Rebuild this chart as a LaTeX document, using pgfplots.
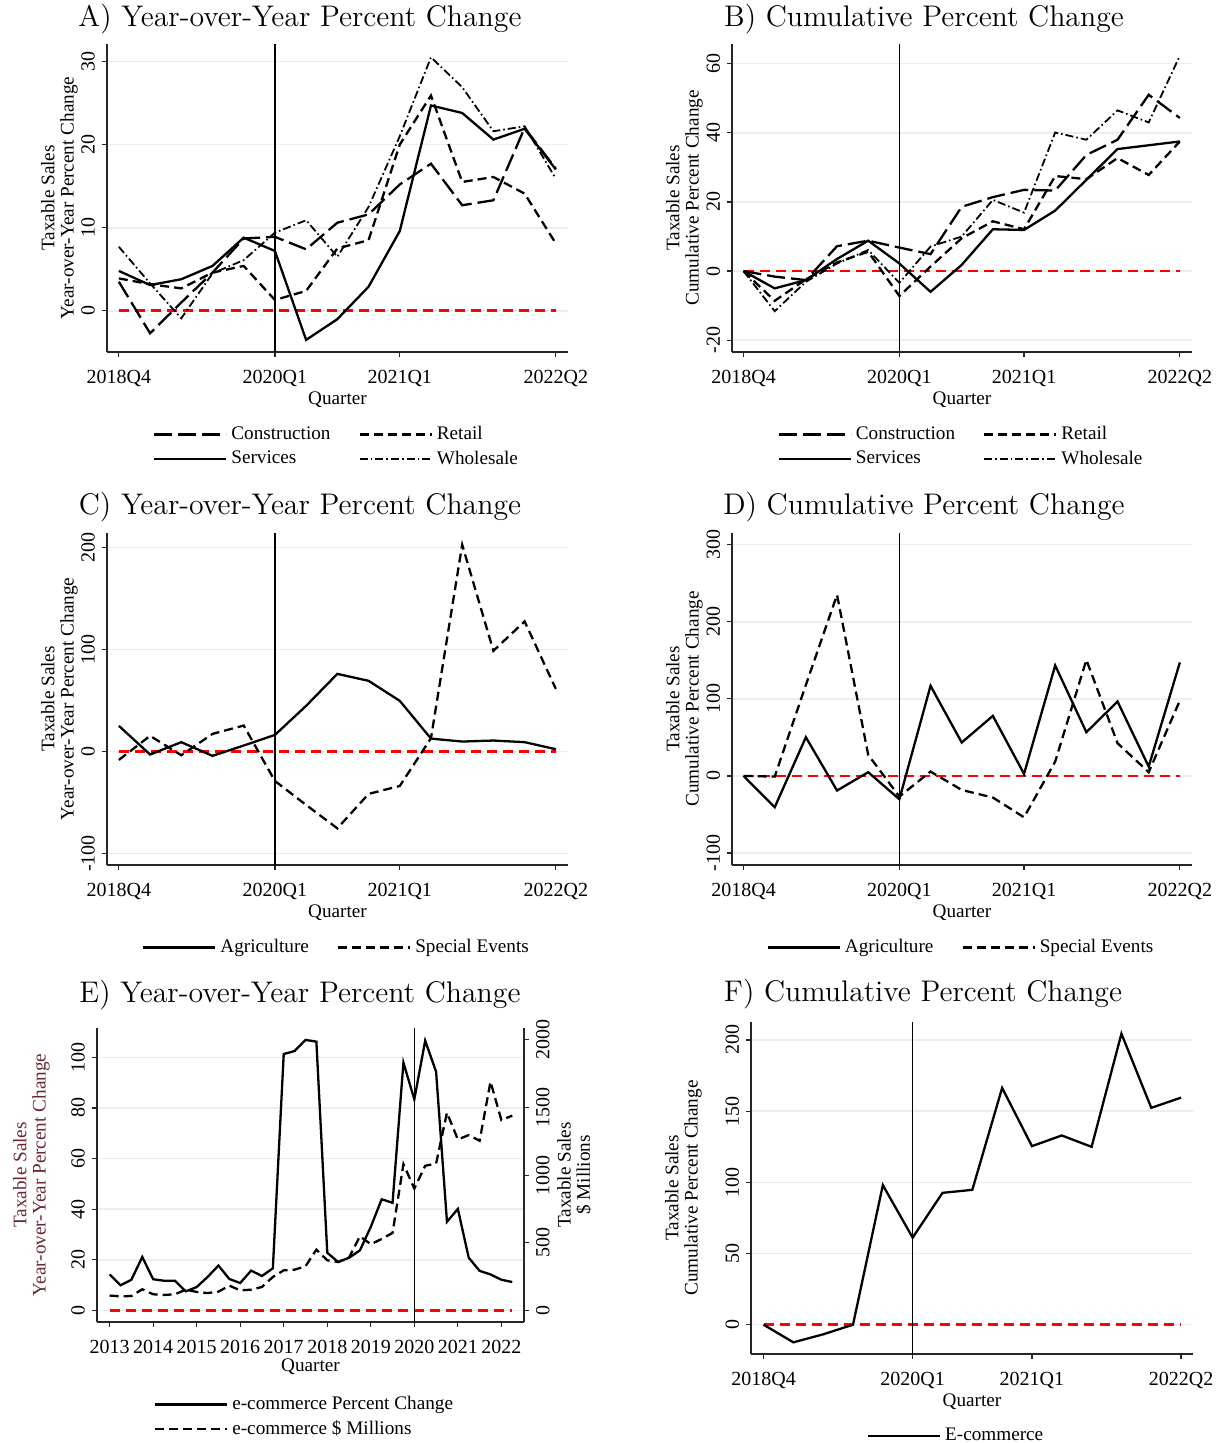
\documentclass[border=0pt]{standalone}
\usepackage{fontspec}
\usepackage{pgfplots}
\usepackage{pgfplotstable}
\pgfplotsset{compat=1.18}
\newfontfamily\tms{Liberation Serif}
\definecolor{gridc}{RGB}{232,238,241}
\definecolor{ylab}{RGB}{105,40,52}

\tikzset{
  lcon/.style={line width=1.15pt, dash pattern=on 9pt off 3pt},
  lret/.style={line width=1.15pt, dash pattern=on 4.5pt off 2.5pt},
  lser/.style={line width=1.15pt},
  lwho/.style={line width=0.9pt, dash pattern=on 4pt off 1.5pt on 0.8pt off 1.5pt},
  zline/.style={red, line width=1.35pt, dash pattern=on 5pt off 3pt},
  vline/.style={black, line width=0.7pt},
  ttl/.style={anchor=base, font=\fontsize{14.4}{16}\selectfont, scale=1.035, transform shape},
}

\pgfplotsset{
  stata/.style={
    scale only axis,
    axis x line*=bottom, axis y line*=left,
    axis line style={line width=0.6pt, black!85},
    every tick/.style={line width=0.6pt, black!85},
    tick align=outside, major tick length=2.5pt,
    ymajorgrids, grid style={line width=0.8pt, gridc},
    xtick={0,5,9,14}, xticklabels={2018Q4,2020Q1,2021Q1,2022Q2},
    xlabel={Quarter},
    label style={font=\tms\fontsize{9.6}{9.6}\selectfont},
    tick label style={font=\tms\fontsize{10}{10}\selectfont},
    xticklabel style={yshift=-3pt},
    xlabel style={inner sep=1pt, yshift=2pt},
    yticklabel style={rotate=90, anchor=south},
    ylabel style={align=center, yshift=-5pt},
    /pgf/number format/assume math mode=true,
    legend style={draw=none, fill=none, font=\tms\fontsize{9.6}{9.6}\selectfont,
      at={(0.5,0)}, anchor=north, yshift=-33pt, row sep=0pt,
      /tikz/every even column/.append style={column sep=12pt}},
    legend cell align=left,
    legend image code/.code={\draw[##1] (0pt,0pt) -- (36pt,0pt);},
  },
}

\pgfplotstableread{
q con ret ser who
0 3.5 3.9 4.8 7.7
1 -2.7 3.2 3.1 3.3
2 1.0 2.7 3.8 -0.9
3 4.6 4.6 5.4 4.5
4 8.7 5.4 8.8 6.1
5 8.9 1.3 7.2 9.4
6 7.4 2.4 -3.5 10.9
7 10.6 7.5 -1.0 6.5
8 11.6 8.5 2.9 12.5
9 15.2 20.0 9.6 21.0
10 17.7 25.9 24.7 30.5
11 12.7 15.5 23.8 26.9
12 13.3 16.1 20.6 21.6
13 22.0 14.1 21.9 22.2
14 17.1 8.1 17.0 15.9
}\tabA

\pgfplotstableread{
q con ret ser who
0 0 0 0 0
1 -1.6 -8.6 -5.0 -11.6
2 -2.6 -2.4 -2.6 -3.1
3 7.2 2.5 3.5 2.2
4 8.8 5.6 8.8 6.1
5 6.8 -7.2 2.2 -3.4
6 4.9 1.3 -6.0 7.1
7 18.6 9.5 1.8 10.0
8 21.4 14.4 12.1 20.6
9 23.5 12.1 11.9 16.9
10 23.3 27.5 17.5 40.1
11 33.6 26.6 26.4 38.0
12 38.0 32.7 35.3 46.5
13 51.0 27.8 36.4 43.0
14 44.3 37.5 37.5 62.3
}\tabB

\pgfplotstableread{
q agr spe
0 25.2 -8.2
1 -2.9 15.4
2 9.2 -3.6
3 -4.2 17.3
4 5.9 25.5
5 16.3 -28.8
6 44.8 -52.3
7 76.1 -75.2
8 69.3 -41.5
9 49.7 -33.7
10 12.7 13.1
11 9.8 202.6
12 10.8 98.7
13 9.2 127.5
14 2.3 61.4
}\tabC

\pgfplotstableread{
q agr spe
0 0 0
1 -40.7 -0.9
2 50.2 118
3 -19.0 235
4 4.8 27.3
5 -30.3 -26.8
6 116.9 5.6
7 43.3 -18.2
8 77.9 -28.1
9 2.6 -53.7
10 143.3 18.6
11 56.7 150.6
12 96.5 42.4
13 12.1 4.8
14 147.2 97.8
}\tabD

\pgfplotstableread{
yr pct mil
2013.00 14.2 109
2013.25 9.9 104
2013.50 12.1 106
2013.75 21.1 156
2014.00 12.3 119
2014.25 11.7 114
2014.50 11.7 119
2014.75 7.5 153
2015.00 9.2 136
2015.25 13.2 128
2015.50 17.7 138
2015.75 12.4 183
2016.00 10.8 148
2016.25 15.7 153
2016.50 13.6 173
2016.75 16.6 247
2017.00 101.3 296
2017.25 102.5 301
2017.50 106.9 326
2017.75 106.2 449
2018.00 22.8 370
2018.25 19.1 358
2018.50 20.8 390
2018.75 23.7 548
2019.00 33.0 489
2019.25 43.9 528
2019.50 42.5 573
2019.75 97.9 1081
2020.00 83.4 901
2020.25 106.6 1069
2020.50 94.3 1086
2020.75 35.0 1462
2021.00 40.1 1264
2021.25 20.8 1296
2021.50 15.6 1254
2021.75 14.2 1691
2022.00 12.1 1407
2022.25 11.2 1440
}\tabE

\pgfplotstableread{
q ecom
0 0
1 -12.4
2 -6.8
3 0
4 98.0
5 61.1
6 92.6
7 94.7
8 166.3
9 125.4
10 132.9
11 124.9
12 204.4
13 152.3
14 159.5
}\tabF

\begin{document}
\begin{tikzpicture}
\path[use as bounding box] (0,0) rectangle (607.5pt,721.5pt);

% titles
\node[ttl] at (150pt,708pt) {A) Year-over-Year Percent Change};
\node[ttl] at (462pt,708pt) {B) Cumulative Percent Change};
\node[ttl] at (150pt,464pt) {C) Year-over-Year Percent Change};
\node[ttl] at (462pt,464pt) {D) Cumulative Percent Change};
\node[ttl] at (150pt,220pt) {E) Year-over-Year Percent Change};
\node[ttl] at (461.5pt,220.5pt) {F) Cumulative Percent Change};

% A
\begin{axis}[stata, at={(53.5pt,545.5pt)}, anchor=south west,
  width=230.5pt, height=154pt,
  xmin=-0.38, xmax=14.39, ymin=-4.95, ymax=32.1,
  ytick={0,10,20,30},
  ylabel={Taxable Sales\\Year-over-Year Percent Change},
  legend columns=2]
\addplot[zline, forget plot] coordinates {(0,0) (14,0)};
\addplot[vline, forget plot] coordinates {(5,-4.95) (5,32.1)};
\addplot[lcon] table[x=q,y=con]{\tabA};
\addlegendentry{Construction}
\addplot[lret] table[x=q,y=ret]{\tabA};
\addlegendentry{Retail}
\addplot[lser] table[x=q,y=ser]{\tabA};
\addlegendentry{Services}
\addplot[lwho] table[x=q,y=who]{\tabA};
\addlegendentry{Wholesale}
\end{axis}

% B
\begin{axis}[stata, at={(366pt,545.5pt)}, anchor=south west,
  width=230pt, height=154pt,
  xmin=-0.37, xmax=14.39, ymin=-23.4, ymax=65.7,
  ytick={-20,0,20,40,60},
  ylabel={Taxable Sales\\Cumulative Percent Change},
  legend columns=2]
\addplot[zline, forget plot] coordinates {(0,0) (14,0)};
\addplot[vline, forget plot] coordinates {(5,-23.4) (5,65.7)};
\addplot[lcon] table[x=q,y=con]{\tabB};
\addlegendentry{Construction}
\addplot[lret] table[x=q,y=ret]{\tabB};
\addlegendentry{Retail}
\addplot[lser] table[x=q,y=ser]{\tabB};
\addlegendentry{Services}
\addplot[lwho] table[x=q,y=who]{\tabB};
\addlegendentry{Wholesale}
\end{axis}

% C
\begin{axis}[stata, at={(53.5pt,289pt)}, anchor=south west,
  width=230.5pt, height=166pt,
  xmin=-0.38, xmax=14.39, ymin=-111.1, ymax=214.1,
  ytick={-100,0,100,200},
  ylabel={Taxable Sales\\Year-over-Year Percent Change},
  legend columns=2]
\addplot[zline, forget plot] coordinates {(0,0) (14,0)};
\addplot[vline, forget plot] coordinates {(5,-111.1) (5,214.1)};
\addplot[lser] table[x=q,y=agr]{\tabC};
\addlegendentry{Agriculture}
\addplot[lret] table[x=q,y=spe]{\tabC};
\addlegendentry{Special Events}
\end{axis}

% D
\begin{axis}[stata, at={(366pt,289pt)}, anchor=south west,
  width=230pt, height=166pt,
  xmin=-0.37, xmax=14.39, ymin=-115.6, ymax=315.2,
  ytick={-100,0,100,200,300},
  ylabel={Taxable Sales\\Cumulative Percent Change},
  legend columns=2]
\addplot[zline, forget plot] coordinates {(0,0) (14,0)};
\addplot[vline, forget plot] coordinates {(5,-115.6) (5,315.2)};
\addplot[lser] table[x=q,y=agr]{\tabD};
\addlegendentry{Agriculture}
\addplot[lret] table[x=q,y=spe]{\tabD};
\addlegendentry{Special Events}
\end{axis}

% E (left axis: percent change)
\begin{axis}[stata, at={(48.5pt,60.5pt)}, anchor=south west,
  width=213.5pt, height=147pt,
  xmin=2012.71, xmax=2022.52, ymin=-4.6, ymax=111.6,
  xtick={2013,2014,2015,2016,2017,2018,2019,2020,2021,2022},
  xticklabels={2013,2014,2015,2016,2017,2018,2019,2020,2021,2022},
  ytick={0,20,40,60,80,100},
  ylabel={Taxable Sales\\Year-over-Year Percent Change},
  ylabel style={text=ylab, yshift=9pt},
  legend columns=1, legend style={xshift=-2.5pt}]
\addplot[zline, forget plot] coordinates {(2013,0) (2022.25,0)};
\addplot[vline, forget plot] coordinates {(2020,-4.6) (2020,111.6)};
\addplot[lser] table[x=yr,y=pct]{\tabE};
\addlegendentry{e-commerce Percent Change}
\addlegendimage{lret}
\addlegendentry{e-commerce \$ Millions}
\end{axis}
% E (right axis: $ millions)
\begin{axis}[scale only axis, at={(48.5pt,60.5pt)}, anchor=south west,
  width=213.5pt, height=147pt,
  xmin=2012.71, xmax=2022.52, ymin=-86, ymax=2088,
  axis x line=none, axis y line*=right,
  axis line style={line width=0.6pt, black!85},
  every tick/.style={line width=0.6pt, black!85},
  tick align=outside, major tick length=2.5pt,
  ytick={0,500,1000,1500,2000},
  yticklabel style={rotate=90, anchor=north, font=\tms\fontsize{10}{10}\selectfont},
  /pgf/number format/assume math mode=true,
  /pgf/number format/1000 sep={},
  ylabel={Taxable Sales\\\$ Millions},
  ylabel style={align=center, yshift=3pt, font=\tms\fontsize{9.6}{9.6}\selectfont}]
\addplot[lret] table[x=yr,y=mil]{\tabE};
\end{axis}

% F
\begin{axis}[stata, at={(375.5pt,44.5pt)}, anchor=south west,
  width=221pt, height=166pt,
  xmin=-0.42, xmax=14.40, ymin=-20.6, ymax=212.6,
  ytick={0,50,100,150,200},
  ylabel={Taxable Sales\\Cumulative Percent Change},
  ylabel style={yshift=10pt},
  legend columns=1, legend style={xshift=-7.5pt}]
\addplot[zline, forget plot] coordinates {(0,0) (14,0)};
\addplot[vline, forget plot] coordinates {(5,-20.6) (5,212.6)};
\addplot[lser] table[x=q,y=ecom]{\tabF};
\addlegendentry{E-commerce}
\end{axis}
\end{tikzpicture}
\end{document}
